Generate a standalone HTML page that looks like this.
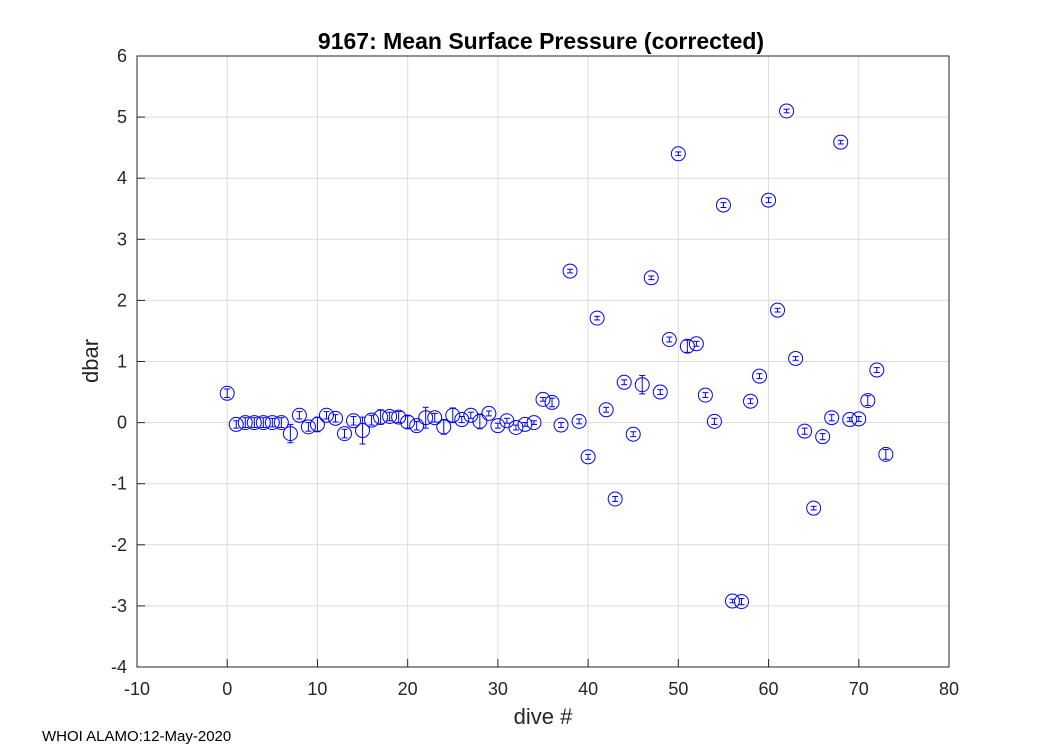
<!DOCTYPE html>
<html><head><meta charset="utf-8"><style>
body{margin:0;background:#fff;font-family:"Liberation Sans",sans-serif}
</style></head><body>
<svg id="c" width="1050" height="750" style="display:block">
<rect width="1050" height="750" fill="#fff"/>
<g id="grid"></g>
<g id="marks"></g>
<rect x="137" y="56" width="812" height="611" fill="none" stroke="#262626" stroke-width="1"/>
<g id="ticks" font-size="18" fill="#262626"></g>
<text x="541" y="49" text-anchor="middle" font-size="23" font-weight="bold" fill="#000">9167: Mean Surface Pressure (corrected)</text>
<text x="543" y="724" text-anchor="middle" font-size="22" fill="#262626">dive #</text>
<text transform="translate(98,361) rotate(-90)" text-anchor="middle" font-size="22" fill="#262626">dbar</text>
<text x="42" y="741" font-size="15" fill="#000">WHOI ALAMO:12-May-2020</text>
</svg>
<script>
const dives=[0,1,2,3,4,5,6,7,8,9,10,11,12,13,14,15,16,17,18,19,20,21,22,23,24,25,26,27,28,29,30,31,32,33,34,35,36,37,38,39,40,41,42,43,44,45,46,47,48,49,50,51,52,53,54,55,56,57,58,59,60,61,62,63,64,65,66,67,68,69,70,71,72,73];
const pressure=[0.48,-0.03,0,0,0,0,0,-0.18,0.12,-0.07,-0.03,0.12,0.07,-0.18,0.03,-0.13,0.04,0.09,0.1,0.09,0.01,-0.05,0.08,0.08,-0.07,0.12,0.05,0.12,0.02,0.15,-0.05,0.03,-0.08,-0.03,0,0.38,0.33,-0.04,2.48,0.02,-0.56,1.71,0.21,-1.25,0.66,-0.19,0.62,2.37,0.5,1.36,4.4,1.25,1.29,0.45,0.02,3.56,-2.92,-2.93,0.35,0.76,3.64,1.84,5.1,1.05,-0.14,-1.4,-0.23,0.08,4.59,0.05,0.06,0.36,0.86,-0.52];
const errs=[0.07,0.06,0.08,0.08,0.08,0.07,0.08,0.15,0.06,0.07,0.12,0.06,0.06,0.07,0.07,0.22,0.08,0.12,0.07,0.09,0.1,0.07,0.17,0.07,0.12,0.12,0.05,0.05,0.12,0.04,0.04,0.04,0.04,0.03,0.03,0.03,0.07,0.04,0.03,0.04,0.04,0.03,0.04,0.04,0.04,0.04,0.15,0.03,0.04,0.04,0.03,0.1,0.04,0.04,0.05,0.04,0.03,0.05,0.04,0.04,0.04,0.03,0.03,0.03,0.05,0.03,0.05,0.05,0.03,0.03,0.04,0.08,0.04,0.08];
const xTicks=[-10,0,10,20,30,40,50,60,70,80];
const yTicks=[-4,-3,-2,-1,0,1,2,3,4,5,6];
const NS='http://www.w3.org/2000/svg';
const X=v=>137+(v+10)/90*812;
const Y=v=>667-(v+4)/10*611;
function mk(p,tag,a){const e=document.createElementNS(NS,tag);for(const k in a)e.setAttribute(k,a[k]);p.appendChild(e);return e;}
const g=document.getElementById('grid'),t=document.getElementById('ticks'),m=document.getElementById('marks');
xTicks.forEach(v=>{
 const l=mk(g,'line',{x1:X(v),x2:X(v),y1:56,y2:667,stroke:'#dcdcdc'});
 
 
 mk(g,'line',{x1:X(v),x2:X(v),y1:667,y2:659,stroke:'#262626'});
 const s=mk(t,'text',{x:X(v),y:695,'text-anchor':'middle'});s.textContent=v;
 
 
});
yTicks.forEach(v=>{
 const l=mk(g,'line',{x1:137,x2:949,y1:Y(v),y2:Y(v),stroke:'#dcdcdc'});
 
 
 mk(g,'line',{x1:137,x2:145,y1:Y(v),y2:Y(v),stroke:'#262626'});
 const s=mk(t,'text',{x:127,y:Y(v)+6,'text-anchor':'end'});s.textContent=v;
 
 
});
dives.forEach((d,i)=>{
 const cx=X(d),cy=Y(pressure[i]),e=errs[i]*61.1;
 const grp=mk(m,'g',{stroke:'#0000ff','stroke-width':1,fill:'none'});
 
 
 mk(grp,'line',{x1:cx,x2:cx,y1:cy-e,y2:cy+e});
 mk(grp,'line',{x1:cx-3,x2:cx+3,y1:cy-e,y2:cy-e});
 mk(grp,'line',{x1:cx-3,x2:cx+3,y1:cy+e,y2:cy+e});
 mk(grp,'circle',{cx:cx,cy:cy,r:7});
});
</script>
</body></html>
